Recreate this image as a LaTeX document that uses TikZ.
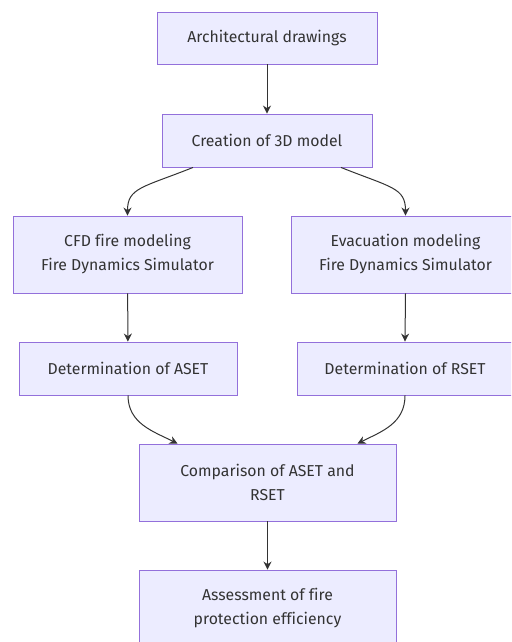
\documentclass[tikz,border=0pt]{standalone}
\usepackage{fontspec}
\setmainfont{Fira Sans}[Ligatures=NoCommon]
\usetikzlibrary{arrows.meta}
\definecolor{boxfill}{HTML}{ECECFF}
\definecolor{boxline}{HTML}{9370DB}
\definecolor{ink}{HTML}{333333}
\tikzset{
	stepbox/.style = {draw = boxline, fill = boxfill, line width = 0.9pt, text = ink,
		align = center, inner sep = 0pt, font = \fontsize{15.8}{24}\selectfont},
	flow/.style = {draw = ink, line width = 1pt, -{Stealth[length = 8pt, width = 8pt]}}
}
\begin{document}
\begin{tikzpicture}[x = 1pt, y = 1pt]
		\useasboundingbox (0,0) rectangle (511,-642);
		\clip (0,0) rectangle (511,-642);
		\node[stepbox, minimum width = 220, minimum height = 52] (drawings) at (267,-38) {Architectural drawings};
		\node[stepbox, minimum width = 210, minimum height = 53] (model) at (267,-140.5) {Creation of 3D model};
		\node[stepbox, minimum width = 229, minimum height = 77] (cfd) at (127.5,-254.5) {CFD fire modeling\\Fire Dynamics Simulator};
		\node[stepbox, minimum width = 229, minimum height = 77] (evac) at (405.5,-254.5) {Evacuation modeling\\Fire Dynamics Simulator};
		\node[stepbox, minimum width = 218, minimum height = 53] (aset) at (128,-368.5) {Determination of ASET};
		\node[stepbox, minimum width = 216, minimum height = 53] (rset) at (405,-368.5) {Determination of RSET};
		\node[stepbox, minimum width = 257, minimum height = 77] (compare) at (267.5,-482.5) {Comparison of ASET and\\RSET};
		\node[stepbox, minimum width = 257, minimum height = 77] (assess) at (267.5,-608.5) {Assessment of fire\\protection efficiency};
		% straight links
		\draw[flow] (drawings) -- (model);
		\draw[flow] (cfd) -- (aset);
		\draw[flow] (evac.south) -- (rset.north);
		\draw[flow] (compare) -- (assess);
		% curved links
		\draw[flow] ([xshift = -74pt]model.south) .. controls +(-50,-20) and +(0,28) .. (cfd.north);
		\draw[flow] ([xshift = 74pt]model.south) .. controls +(50,-20) and +(0,28) .. (evac.north);
		\draw[flow] (aset.south) .. controls +(0,-28) and +(-24,12) .. ([xshift = -90pt]compare.north);
		\draw[flow] (rset.south) .. controls +(0,-28) and +(24,12) .. ([xshift = 90pt]compare.north);
	\end{tikzpicture}
\end{document}
